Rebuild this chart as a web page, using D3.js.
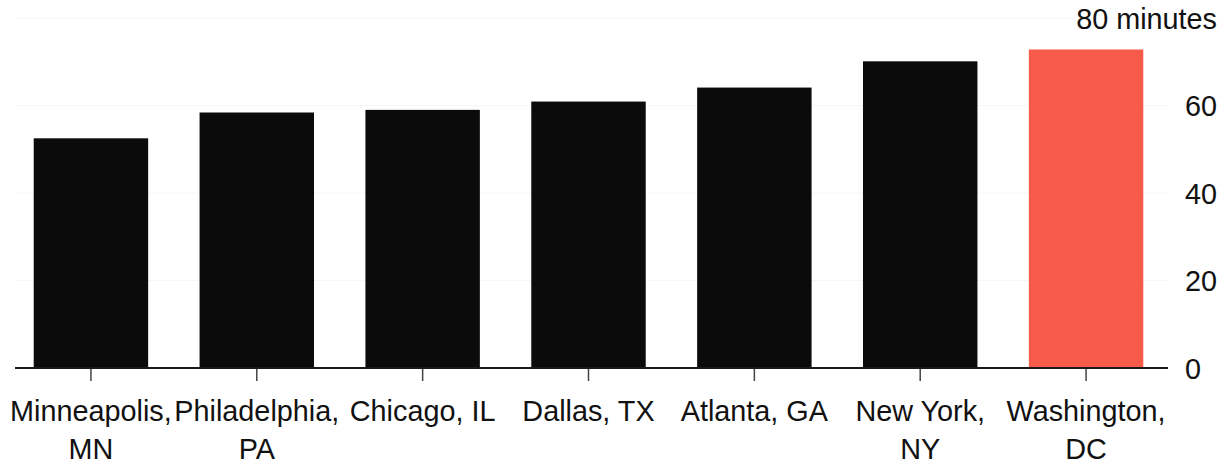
<!DOCTYPE html>
<html>
<head>
<meta charset="utf-8">
<script src="https://cdn.jsdelivr.net/npm/d3@7"></script>
<style>
  html, body { margin: 0; padding: 0; background: #fff; }
  svg { display: block; }
  text { font-family: "Liberation Sans", Arial, Helvetica, sans-serif; fill: #111; }
</style>
</head>
<body>
<svg id="chart" width="1230" height="464"></svg>
<script>
// Average commute, minutes
const cities = ["Minneapolis, MN", "Philadelphia, PA", "Chicago, IL", "Dallas, TX", "Atlanta, GA", "New York, NY", "Washington, DC"];
const cityLabels = [["Minneapolis,", "MN"], ["Philadelphia,", "PA"], ["Chicago, IL"], ["Dallas, TX"], ["Atlanta, GA"], ["New York,", "NY"], ["Washington,", "DC"]];
const minutes = [52.5, 58.4, 59.0, 60.9, 64.1, 70.1, 72.8];
const highlight = ["Washington, DC"];
const yTicks = [0, 20, 40, 60, 80];
const yTopLabel = "80 minutes";

const svg = d3.select("#chart");
const baseY = 368, topY = 18;
const plotLeft = 8, plotRight = 1169;
const fontSize = 28.8;

const x = d3.scaleBand()
  .domain(cities)
  .range([plotLeft, plotRight])
  .paddingInner(0.31)
  .paddingOuter(0.155);

const y = d3.scaleLinear()
  .domain([0, 80])
  .range([baseY, topY]);

// faint horizontal guides
svg.append("g")
  .selectAll("line")
  .data(yTicks.filter(d => d > 0))
  .join("line")
  .attr("x1", 15).attr("x2", 1168)
  .attr("y1", d => y(d)).attr("y2", d => y(d))
  .attr("stroke", "#f6f6f6")
  .attr("stroke-width", 1);

// bars
svg.append("g")
  .selectAll("rect")
  .data(cities)
  .join("rect")
  .attr("x", d => x(d))
  .attr("width", x.bandwidth())
  .attr("y", (d, i) => y(minutes[i]))
  .attr("height", (d, i) => y(0) - y(minutes[i]))
  .attr("fill", d => highlight.includes(d) ? "#f65a48" : "#0b0b0b");

// category axis
const xAxis = svg.append("g")
  .attr("transform", `translate(0,${baseY})`)
  .call(d3.axisBottom(x).tickSize(13).tickSizeOuter(0).tickFormat(""));
xAxis.select(".domain").remove();
xAxis.selectAll(".tick line").attr("stroke", "#444").attr("stroke-width", 1.5);

svg.append("line")
  .attr("x1", 15).attr("x2", 1168)
  .attr("y1", baseY).attr("y2", baseY)
  .attr("stroke", "#1a1a1a")
  .attr("stroke-width", 2);

const labelG = svg.append("g");
cities.forEach((c, i) => {
  const cx = x(c) + x.bandwidth() / 2;
  const t = labelG.append("text")
    .attr("x", cx)
    .attr("y", 421)
    .attr("text-anchor", "middle")
    .attr("font-size", fontSize);
  cityLabels[i].forEach((line, j) => {
    t.append("tspan")
      .attr("x", cx)
      .attr("dy", j === 0 ? 0 : 38)
      .text(line);
  });
});

// value axis on the right
const yAxis = svg.append("g")
  .attr("transform", "translate(1185,0)")
  .call(d3.axisRight(y).tickValues(yTicks).tickSize(0).tickPadding(0)
    .tickFormat(d => d === 80 ? yTopLabel : d));
yAxis.select(".domain").remove();
yAxis.selectAll(".tick text")
  .attr("font-size", fontSize)
  .attr("font-family", "\"Liberation Sans\", Arial, sans-serif")
  .attr("fill", "#111")
  .attr("dy", "0.36em");
yAxis.selectAll(".tick")
  .filter(d => d === 80)
  .select("text")
  .attr("text-anchor", "end")
  .attr("x", 32);
</script>
</body>
</html>
